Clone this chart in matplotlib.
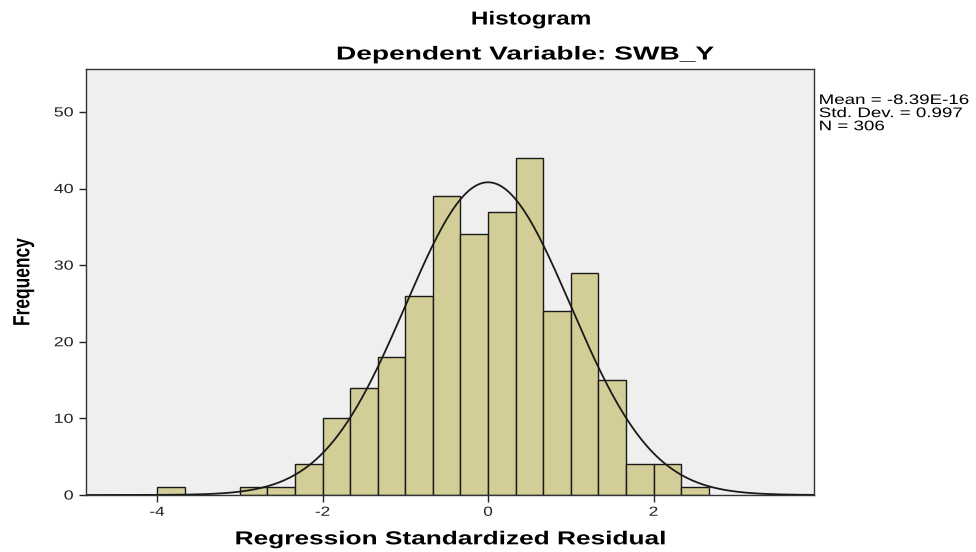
import numpy as np
import matplotlib
matplotlib.use("Agg")
import matplotlib.pyplot as plt
from matplotlib.patheffects import AbstractPathEffect
from matplotlib.transforms import Affine2D

# ---- data ----
bin_start = -4.0
bin_width = 1.0 / 3.0
counts = [1, 0, 0, 1, 1, 4, 10, 14, 18, 26, 39, 34, 37, 44, 24, 29, 15, 4, 4, 1]
mean_val = -8.39e-16
std_val = 0.997
n_val = 306
x_ticks = [-4, -2, 0, 2]
y_ticks = [0, 10, 20, 30, 40, 50]


class Stretch(AbstractPathEffect):
    """Draw text glyphs horizontally widened (the reference is a stretched SPSS export)."""
    def __init__(self, sx=1.0, sy=1.0, anchor='center'):
        super().__init__()
        self.sx, self.sy, self.anchor = sx, sy, anchor

    def draw_path(self, renderer, gc, tpath, affine, rgbFace=None):
        ext = tpath.get_extents()
        if self.anchor == 'left':
            cx = ext.x0
        elif self.anchor == 'right':
            cx = ext.x1
        else:
            cx = 0.5 * (ext.x0 + ext.x1)
        cy = 0.5 * (ext.y0 + ext.y1)
        pre = Affine2D().translate(-cx, -cy).scale(self.sx, self.sy).translate(cx, cy)
        renderer.draw_path(gc, tpath, pre + affine, rgbFace)


plt.rcParams['font.family'] = ['Liberation Sans', 'DejaVu Sans']

fig = plt.figure(figsize=(9.76, 5.52), dpi=100)
ax = fig.add_axes([86/976, 1-495/552, (814-86)/976, (495-69)/552])
ax.set_facecolor('#efefef')

edges = bin_start + bin_width * np.arange(len(counts) + 1)
lefts = edges[:-1]
nz = [i for i, c in enumerate(counts) if c > 0]
ax.bar([lefts[i] for i in nz], [counts[i] for i in nz], width=bin_width, align='edge',
       color='#d3ce97', edgecolor='#1a1a1a', linewidth=1.0, zorder=2)

xs = np.linspace(-4.86, 3.94, 600)
ys = n_val * bin_width * np.exp(-0.5 * ((xs - mean_val) / std_val) ** 2) / (std_val * np.sqrt(2 * np.pi))
ax.plot(xs, ys, color='#1a1a1a', linewidth=1.3, zorder=3)

ax.set_xlim(-4.86, 3.94)
ax.set_ylim(0, 55.6)
ax.set_xticks(x_ticks)
ax.set_yticks(y_ticks)
ax.set_xticklabels([str(t) for t in x_ticks])
ax.tick_params(direction='out', length=5, width=1, labelsize=9.5, colors='#222222')
ax.tick_params(axis='y', pad=4)
for s in ax.spines.values():
    s.set_color('#333333')
    s.set_linewidth(1.0)
for lab in ax.get_xticklabels():
    lab.set_path_effects([Stretch(1.3, 1.0, 'center')])
for lab in ax.get_yticklabels():
    lab.set_path_effects([Stretch(1.35, 1.0, 'right')])

xl = ax.set_xlabel('Regression Standardized Residual', fontsize=13.5, fontweight='bold', labelpad=9)
xl.set_path_effects([Stretch(1.4, 1.0, 'center')])
yl = ax.set_ylabel('Frequency', fontsize=12.5, fontweight='bold', labelpad=20,
                   family=['Liberation Sans Narrow', 'Liberation Sans'])
yl.set_path_effects([Stretch(1.0, 1.35, 'center')])

t1 = fig.text(531/976, 1-20/552, 'Histogram', ha='center', va='center', fontsize=13.5, fontweight='bold')
t1.set_path_effects([Stretch(1.3, 1.0, 'center')])
t2 = fig.text(525/976, 1-55/552, 'Dependent Variable: SWB_Y', ha='center', va='center', fontsize=13.5, fontweight='bold')
t2.set_path_effects([Stretch(1.5, 1.0, 'center')])

stats = 'Mean = -8.39E-16\nStd. Dev. = 0.997\nN = 306'
st = fig.text(819/976, 1-93/552, stats, ha='left', va='top', fontsize=10, linespacing=0.92)
st.set_path_effects([Stretch(1.35, 1.0, 'left')])

fig.savefig('out.png', dpi=100)
